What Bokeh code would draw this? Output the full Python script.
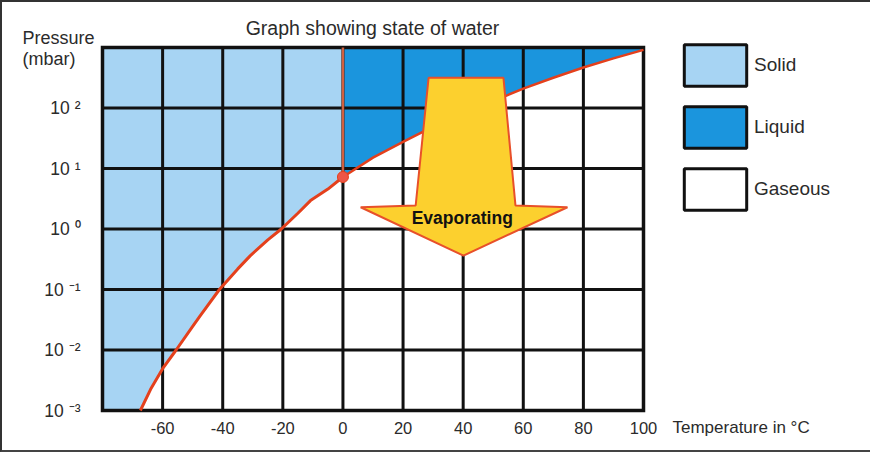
import numpy as np
from bokeh.plotting import figure
from bokeh.models import Label, Legend, LegendItem
from bokeh.embed import file_html
from bokeh.resources import INLINE

# ---------------- data ----------------
x_lo, x_hi = -80, 100          # temperature range of the chart (°C)
y_lo, y_hi = 1e-3, 1e3         # pressure range of the chart (mbar)

x_ticks = [-60, -40, -20, 0, 20, 40, 60, 80, 100]
x_tick_labels = ["-60", "-40", "-20", "0", "20", "40", "60", "80", "100"]
y_ticks = [1e-3, 1e-2, 1e-1, 1e0, 1e1, 1e2]
y_tick_labels = ["10 ⁻³", "10 ⁻²", "10 ⁻¹", "10 ⁰", "10 ¹", "10 ²"]
x_grid = [-60, -40, -20, 0, 20, 40, 60, 80]
y_grid = [1e-2, 1e-1, 1e0, 1e1, 1e2]

# solid / gas boundary (sublimation curve)
sub_T = [-67.4, -64, -60, -55.5, -50, -47.4, -41.1, -35, -30.8, -25, -20.5, -15, -10.8, -5, 0]
sub_P = [0.001, 0.00224, 0.0049, 0.010, 0.0245, 0.0372, 0.10, 0.219, 0.363, 0.661,
         1.0, 1.82, 2.95, 4.57, 7.24]

# liquid / gas boundary (vaporisation curve)
vap_T = [0, 10, 20, 26.4, 40, 54.6, 60, 70, 80, 90, 100]
vap_P = [7.24, 15.1, 27.5, 39.8, 83.2, 162, 209, 316, 468, 661, 912]

# triple point
tp_T = [0]
tp_P = [7.24]

# evaporating arrow outline (T, P)
arrow_T = [28.5, 53.4, 57.4, 74.7, 40.1, 5.9, 24.2]
arrow_P = [316, 316, 2.45, 2.29, 0.363, 2.29, 2.45]

legend_labels = ["Solid", "Liquid", "Gaseous"]

# ---------------- layout (pixels) ----------------
W, H = 870, 452                 # canvas size
fx0, fx1 = 100, 641             # chart left/right inside canvas
fy0, fy1 = 45, 408              # chart top/bottom inside canvas
px_per_deg = (fx1 - fx0) / (x_hi - x_lo)
px_per_dec = (fy1 - fy0) / (np.log10(y_hi) - np.log10(y_lo))
xr0 = x_lo - fx0 / px_per_deg
xr1 = xr0 + W / px_per_deg
ly1 = np.log10(y_hi) + fy0 / px_per_dec
ly0 = ly1 - H / px_per_dec

def tx(px):      # canvas px -> temperature
    return x_lo + (px - fx0) / px_per_deg

def ty(py):      # canvas px -> pressure
    return 10 ** (np.log10(y_hi) - (py - fy0) / px_per_dec)

# ---------------- styles ----------------
solid_color = "#a7d4f3"
liquid_color = "#1b95dd"
gas_color = "#ffffff"
curve_color = "#e4401c"
grid_color = "#111111"
text_color = "#2b2b2b"
font = "Liberation Sans"

p = figure(width=W, height=H, x_range=(xr0, xr1), y_range=(10 ** ly0, 10 ** ly1),
           y_axis_type="log", x_axis_location=None, y_axis_location=None,
           min_border=0, output_backend="svg", toolbar_location=None,
           background_fill_color="white", border_fill_color="white")
p.title.visible = False
p.outline_line_alpha = 0
p.xgrid.visible = False
p.ygrid.visible = False
p.styles = {"border-left": "2px solid #333", "border-top": "2px solid #333",
            "border-bottom": "2px solid #444"}

# region fills
solid_x = [x_lo, 0] + sub_T[::-1] + [x_lo]
solid_y = [y_hi, y_hi] + sub_P[::-1] + [y_lo]
p.patch(solid_x, solid_y, fill_color=solid_color, line_alpha=0)

liq_x = [0] + vap_T + [x_hi]
liq_y = [y_hi] + vap_P + [y_hi]
p.patch(liq_x, liq_y, fill_color=liquid_color, line_alpha=0)

# grid + outline
p.segment(x0=x_grid, y0=[y_lo] * len(x_grid), x1=x_grid, y1=[y_hi] * len(x_grid),
          line_color=grid_color, line_width=3)
p.segment(x0=[x_lo] * len(y_grid), y0=y_grid, x1=[x_hi] * len(y_grid), y1=y_grid,
          line_color=grid_color, line_width=3)
p.quad(left=[x_lo], right=[x_hi], bottom=[y_lo], top=[y_hi], fill_alpha=0,
       line_color=grid_color, line_width=3.5, line_join="miter")

# tick labels
p.text(x=x_ticks, y=[ty(427 - 2)] * len(x_ticks), text=x_tick_labels,
       text_align="center", text_baseline="middle", text_font_size="16.5px",
       text_color=text_color, text_font={"value": font})
p.text(x=[tx(80 - 2)] * len(y_ticks), y=y_ticks, text=y_tick_labels,
       text_align="right", text_baseline="middle", text_font_size="17.5px",
       text_color=text_color, text_font={"value": font})

# boundary curves
p.line(sub_T, sub_P, line_color=curve_color, line_width=3)
p.line(vap_T, vap_P, line_color=curve_color, line_width=2.5)
p.line([tp_T[0], tp_T[0]], [tp_P[0], y_hi], line_color="#d0603f", line_width=2.5)
p.scatter(tp_T, tp_P, size=11, fill_color="#ee5646", line_color="#e4401c", line_width=1)

# arrow
p.patch(arrow_T, arrow_P, fill_color="#fcd02e", line_color="#e8502a", line_width=2)
p.add_layout(Label(x=39.7, y=10 ** 0.185, text="Evaporating", text_align="center",
                   text_baseline="middle", text_font=font, text_font_style="bold",
                   text_font_size="17.5px", text_color="#111111"))

# texts
p.add_layout(Label(x=tx(372 - 2), y=ty(27 - 2), text="Graph showing state of water",
                   text_align="center", text_baseline="middle", text_font=font,
                   text_font_size="19.5px", text_color=text_color))
p.add_layout(Label(x=tx(22 - 2), y=ty(37 - 2), text="Pressure", text_align="left",
                   text_baseline="middle", text_font=font, text_font_size="18px",
                   text_color=text_color))
p.add_layout(Label(x=tx(22 - 2), y=ty(58 - 2), text="(mbar)", text_align="left",
                   text_baseline="middle", text_font=font, text_font_size="18px",
                   text_color=text_color))
p.add_layout(Label(x=tx(672 - 2), y=ty(427 - 2), text="Temperature in °C", text_align="left",
                   text_baseline="middle", text_font=font, text_font_size="17px",
                   text_color=text_color))

# legend (renderers hold one undrawn NaN box so the legend swatches get their style)
nan = [float("nan")]
r_solid = p.quad(left=nan, right=nan, top=nan, bottom=nan, fill_color=solid_color,
                 line_color="#111111", line_width=3)
r_liquid = p.quad(left=nan, right=nan, top=nan, bottom=nan, fill_color=liquid_color,
                  line_color="#111111", line_width=3)
r_gas = p.quad(left=nan, right=nan, top=nan, bottom=nan, fill_color=gas_color,
               line_color="#111111", line_width=3)
legend = Legend(items=[LegendItem(label=legend_labels[0], renderers=[r_solid]),
                       LegendItem(label=legend_labels[1], renderers=[r_liquid]),
                       LegendItem(label=legend_labels[2], renderers=[r_gas])],
                location=(674, H - 213), orientation="vertical",
                glyph_width=78, glyph_height=52, spacing=10, padding=0, margin=0,
                label_standoff=0, border_line_alpha=0, background_fill_alpha=0,
                label_text_font=font, label_text_font_size="19px",
                label_text_color=text_color)
p.add_layout(legend)

open("out.html", "w").write(file_html(p, INLINE))
